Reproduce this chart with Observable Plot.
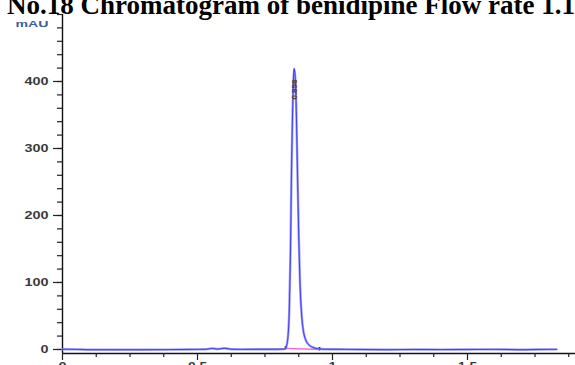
<!DOCTYPE html>
<html>
<head>
<meta charset="utf-8">
<script src="https://cdn.jsdelivr.net/npm/d3@7"></script>
<script src="https://cdn.jsdelivr.net/npm/@observablehq/plot@0.6"></script>
<style>
  html, body { margin: 0; padding: 0; background: #fff; overflow: hidden; width: 575px; height: 365px; }
  #wrap { position: relative; width: 575px; height: 365px; overflow: hidden; }
  #title { position: absolute; left: -44px; top: -8px; white-space: nowrap; z-index: 2;
           font: bold 27px/27px "Liberation Serif", "Times New Roman", serif; color: #000; }
  #chart { position: absolute; left: 0; top: 0; }
</style>
</head>
<body>
<div id="wrap">
  <div id="title">Fig. No.18 Chromatogram of benidipine Flow rate 1.1 ml/min</div>
  <div id="chart"></div>
</div>
<script>
// Detector trace: retention time (min) and absorbance (mAU)
const time = [0, 0.05, 0.1, 0.2, 0.3, 0.4, 0.5, 0.53, 0.555, 0.575, 0.6, 0.625, 0.66, 0.75, 0.8, 0.82,
  0.826, 0.834, 0.84, 0.8445, 0.848, 0.852, 0.855, 0.858, 0.862, 0.866, 0.87, 0.875, 0.88, 0.886,
  0.892, 0.9, 0.91, 0.925, 0.945, 0.97, 1.05, 1.2, 1.3, 1.4, 1.5, 1.6, 1.7, 1.8, 1.83];
const signal = [0.4, 0.2, -0.3, -0.3, -0.3, -0.2, 0.2, 0.3, 1.6, 0.6, 1.8, 0.4, 0.2, 0.3, 0.4, 0.6,
  1.5, 15, 60, 150, 260, 350, 400, 419, 405, 355, 270, 170, 95, 50,
  28, 15, 8, 3.5, 1.2, 0.4, 0.2, -0.3, 0, -0.2, 0, 0.2, -0.3, 0.2, 0.2];

// Integrated peak: apex time, label and integration baseline end points
const peakTime = 0.858;
const peakLabel = "0.858";
const integrationTimes = [0.826, 0.952];
const integrationLevels = [1.5, 0];

// Axis ticks
const yMajorTicks = [0, 100, 200, 300, 400];
const yMinorTicks = [0, 20, 40, 60, 80, 100, 120, 140, 160, 180, 200, 220, 240, 260, 280, 300,
  320, 340, 360, 380, 400, 420, 440, 460, 480, 500];
const xMajorTicks = [0, 0.5, 1, 1.5];
const xMinorTicks = [0.125, 0.25, 0.375, 0.625, 0.75, 0.875, 1.125, 1.25, 1.375, 1.625, 1.75, 1.875];
const unitLabel = "mAU";

const trace = time.map((t, i) => ({t, v: signal[i]}));
const integration = integrationTimes.map((t, i) => ({t, v: integrationLevels[i]}));

const chart = Plot.plot({
  width: 575,
  height: 380,
  marginLeft: 62,
  marginRight: 0,
  marginTop: 14,
  marginBottom: 27,
  x: {domain: [0, 1.9], axis: null},
  y: {domain: [-6, 500], axis: null},
  style: {background: "#fff", overflow: "visible", fontFamily: "'Liberation Sans', Arial, sans-serif"},
  marks: [
    // axis lines
    Plot.ruleY([-6], {stroke: "#111", strokeWidth: 1.4}),
    Plot.ruleX([0], {y1: -6, y2: 500, stroke: "#111", strokeWidth: 1.4}),
    // y ticks
    Plot.axisY({ticks: yMinorTicks, tickSize: 5, tickFormat: () => "", label: null, stroke: "#222", strokeWidth: 1.2}),
    Plot.axisY({ticks: yMajorTicks, tickSize: 9, tickPadding: 5, label: null, stroke: "#222", strokeWidth: 1.2,
      fontSize: 10, fontWeight: "bold", fill: "#3a3a3a"}),
    // x ticks
    Plot.axisX({ticks: xMinorTicks, tickSize: 4, tickFormat: () => "", label: null, stroke: "#222", strokeWidth: 1.2}),
    Plot.axisX({ticks: xMajorTicks, tickSize: 7, tickPadding: 2, label: null, stroke: "#222", strokeWidth: 1.2,
      fontSize: 10, fontWeight: "bold", fill: "#3a3a3a", tickFormat: d => String(d)}),
    // unit label
    Plot.text([unitLabel], {frameAnchor: "top-left", dx: -14, dy: 6, textAnchor: "end",
      fontSize: 8.5, fontWeight: "bold", fill: "#3d5c9c"}),
    // integration baseline and markers
    Plot.line(integration, {x: "t", y: "v", stroke: "#ff5fd0", strokeWidth: 1.3}),
    Plot.ruleX(integration, {x: "t", y1: d => d.v - 2, y2: d => d.v + 3, stroke: "#111", strokeWidth: 1.6}),
    // detector trace: soft halo and core
    Plot.line(trace, {x: "t", y: "v", curve: "monotone-x", stroke: "#8a8aff", strokeWidth: 2.4, strokeOpacity: 0.85}),
    Plot.line(trace, {x: "t", y: "v", curve: "monotone-x", stroke: "#1414e6", strokeWidth: 0.9, strokeOpacity: 0.75}),
    // retention time label
    Plot.text([peakTime], {x: d => d, y: 388, text: () => peakLabel, rotate: -90,
      fontSize: 8, fontWeight: "bold", fill: "#5a4020"})
  ]
});

// widen the small axis texts
d3.select(chart).selectAll("g[aria-label='y-axis tick label'] text, g[aria-label='x-axis tick label'] text")
  .each(function() {
    const s = this.textContent;
    if (s) this.setAttribute("textLength", s.replace(".", "").length * 8 + (s.includes(".") ? 3 : 0));
    this.setAttribute("lengthAdjust", "spacingAndGlyphs");
  });
d3.select(chart).selectAll("g[aria-label='text'] text").each(function() {
  if (this.textContent === unitLabel) {
    this.setAttribute("textLength", 33);
    this.setAttribute("lengthAdjust", "spacingAndGlyphs");
  }
});

document.getElementById("chart").appendChild(chart);
</script>
</body>
</html>
